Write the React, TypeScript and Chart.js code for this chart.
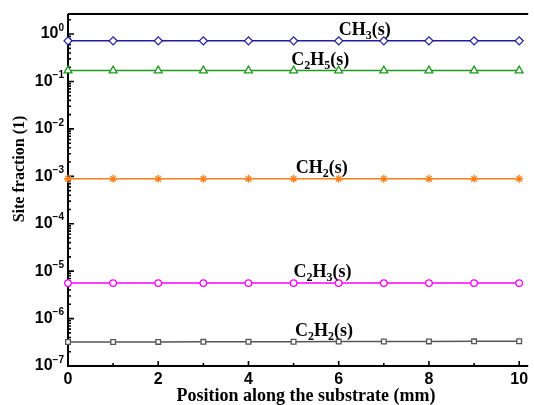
import React, { useEffect, useRef } from "react";
import { Chart, registerables } from "chart.js";

Chart.register(...registerables);

// ---- data ----
const positions = [0, 1, 2, 3, 4, 5, 6, 7, 8, 9, 10];
const ch3 = [0.72, 0.72, 0.72, 0.72, 0.72, 0.72, 0.72, 0.72, 0.72, 0.72, 0.72];
const c2h5 = [0.17, 0.17, 0.17, 0.17, 0.17, 0.17, 0.17, 0.17, 0.17, 0.17, 0.17];
const ch2 = [8.9e-4, 8.9e-4, 8.9e-4, 8.9e-4, 8.9e-4, 8.9e-4, 8.9e-4, 8.9e-4, 8.9e-4, 8.9e-4, 8.9e-4];
const c2h3 = [5.6e-6, 5.6e-6, 5.6e-6, 5.6e-6, 5.6e-6, 5.6e-6, 5.6e-6, 5.6e-6, 5.6e-6, 5.6e-6, 5.6e-6];
const c2h2 = [3.2e-7, 3.21e-7, 3.22e-7, 3.23e-7, 3.24e-7, 3.25e-7, 3.27e-7, 3.28e-7, 3.3e-7, 3.31e-7, 3.33e-7];

const seriesNames = ["CH3(s)", "C2H5(s)", "CH2(s)", "C2H3(s)", "C2H2(s)"];
const seriesValues = [ch3, c2h5, ch2, c2h3, c2h2];
const seriesColors = ["#1f1f9f", "#1f9a1f", "#ff7f1a", "#ff00ff", "#555555"];
const seriesMarkers = ["rectRot", "triangle", "star", "circle", "rect"];
const markerSizes = [4, 4.5, 4, 3.3, 3.3];
const labelX = [6.0, 4.95, 5.05, 5.0, 5.03];

const xTickValues = [0, 2, 4, 6, 8, 10];
const yDecades = [-7, -6, -5, -4, -3, -2, -1, 0];

const xTitle = "Position along the substrate (mm)";
const yTitle = "Site fraction (1)";

const SERIF = '"Liberation Serif", "Times New Roman", serif';
const SANS = '"Liberation Sans", Arial, sans-serif';

function drawSubText(ctx: CanvasRenderingContext2D, text: string, x: number, y: number, size: number) {
  let cx = x;
  for (const ch of text) {
    const isDigit = /[0-9]/.test(ch);
    ctx.font = `bold ${isDigit ? Math.round(size * 0.65) : size}px ${SERIF}`;
    ctx.fillText(ch, cx, isDigit ? y + size * 0.22 : y);
    cx += ctx.measureText(ch).width;
  }
}

const axesPlugin = {
  id: "customAxes",
  beforeDatasetsDraw(chart: any) {
    const { ctx, chartArea } = chart;
    const { left, right, top, bottom } = chartArea;
    const xs = chart.scales.x;
    const ys = chart.scales.y;
    ctx.save();
    ctx.strokeStyle = "#000";
    ctx.lineWidth = 2;
    ctx.beginPath();
    ctx.moveTo(left, top);
    ctx.lineTo(right, top);
    ctx.moveTo(left, top);
    ctx.lineTo(left, bottom);
    ctx.lineTo(right, bottom);
    ctx.stroke();

    // y ticks
    ctx.lineWidth = 1.6;
    ctx.beginPath();
    for (const d of yDecades) {
      const py = ys.getPixelForValue(Math.pow(10, d));
      ctx.moveTo(left, py);
      ctx.lineTo(left + 6, py);
      for (let m = 2; m <= 9; m++) {
        const v = m * Math.pow(10, d);
        if (v > ys.max) break;
        const pm = ys.getPixelForValue(v);
        ctx.moveTo(left, pm);
        ctx.lineTo(left + 3, pm);
      }
    }
    // x ticks
    for (let i = 0; i <= 10; i++) {
      const px = xs.getPixelForValue(i);
      const len = i % 2 === 0 ? 5 : 3;
      ctx.moveTo(px, bottom);
      ctx.lineTo(px, bottom - len);
    }
    ctx.stroke();

    // y labels
    ctx.fillStyle = "#000";
    ctx.textBaseline = "middle";
    for (const d of yDecades) {
      const py = ys.getPixelForValue(Math.pow(10, d));
      const exp = d === 0 ? "0" : "\u2212" + String(-d);
      ctx.font = `bold 10px ${SANS}`;
      const ew = ctx.measureText(exp).width;
      const rx = left - 4;
      ctx.textAlign = "right";
      ctx.fillText(exp, rx, py - 6);
      ctx.font = `bold 16px ${SANS}`;
      ctx.fillText("10", rx - ew, py);
    }
    // x labels
    ctx.textAlign = "center";
    ctx.font = `bold 16px ${SANS}`;
    for (const v of xTickValues) {
      const px = xs.getPixelForValue(v);
      ctx.fillText(String(v), px, bottom + 14);
    }
    // titles
    ctx.font = `bold 18px ${SERIF}`;
    ctx.fillText(xTitle, 306, 396);
    ctx.font = `bold 16px ${SERIF}`;
    ctx.save();
    ctx.translate(20, 169);
    ctx.rotate(-Math.PI / 2);
    ctx.fillText(yTitle, 0, 0);
    ctx.restore();
    ctx.restore();
  },
  afterDatasetsDraw(chart: any) {
    const { ctx } = chart;
    const xs = chart.scales.x;
    const ys = chart.scales.y;
    ctx.save();
    ctx.fillStyle = "#000";
    ctx.textAlign = "left";
    ctx.textBaseline = "alphabetic";
    seriesNames.forEach((name, i) => {
      const lx = labelX[i];
      const idx = Math.round(lx);
      const py = ys.getPixelForValue(seriesValues[i][idx]);
      drawSubText(ctx, name, xs.getPixelForValue(lx), py - 6, 18);
    });
    ctx.restore();
  },
};

export default function App() {
  const ref = useRef<HTMLCanvasElement>(null);
  useEffect(() => {
    if (!ref.current) return;
    const chart = new Chart(ref.current, {
      type: "line",
      data: {
        labels: positions,
        datasets: seriesNames.map((name, i) => ({
          label: name,
          data: positions.map((x, j) => ({ x, y: seriesValues[i][j] })),
          borderColor: seriesColors[i],
          backgroundColor: "#ffffff",
          borderWidth: 1.5,
          pointStyle: seriesMarkers[i] as any,
          pointRadius: markerSizes[i],
          pointBorderColor: seriesColors[i],
          pointBackgroundColor: "#ffffff",
          pointBorderWidth: 1.3,
          fill: false,
          tension: 0,
          clip: false as any,
        })),
      },
      options: {
        responsive: false,
        animation: false,
        layout: { padding: { left: 68, top: 14, right: 0, bottom: 39 } },
        plugins: { legend: { display: false }, tooltip: { enabled: false } },
        scales: {
          x: { type: "linear", min: 0, max: 10.2, display: false },
          y: { type: "logarithmic", min: 1e-7, max: 2.65, display: false },
        },
      },
      plugins: [axesPlugin],
    });
    return () => chart.destroy();
  }, []);
  return (
    <div style={{ position: "fixed", left: 0, top: 0, width: 534, height: 405, background: "#fff" }}>
      <canvas ref={ref} width={534} height={405} style={{ width: 534, height: 405, display: "block" }} />
    </div>
  );
}
